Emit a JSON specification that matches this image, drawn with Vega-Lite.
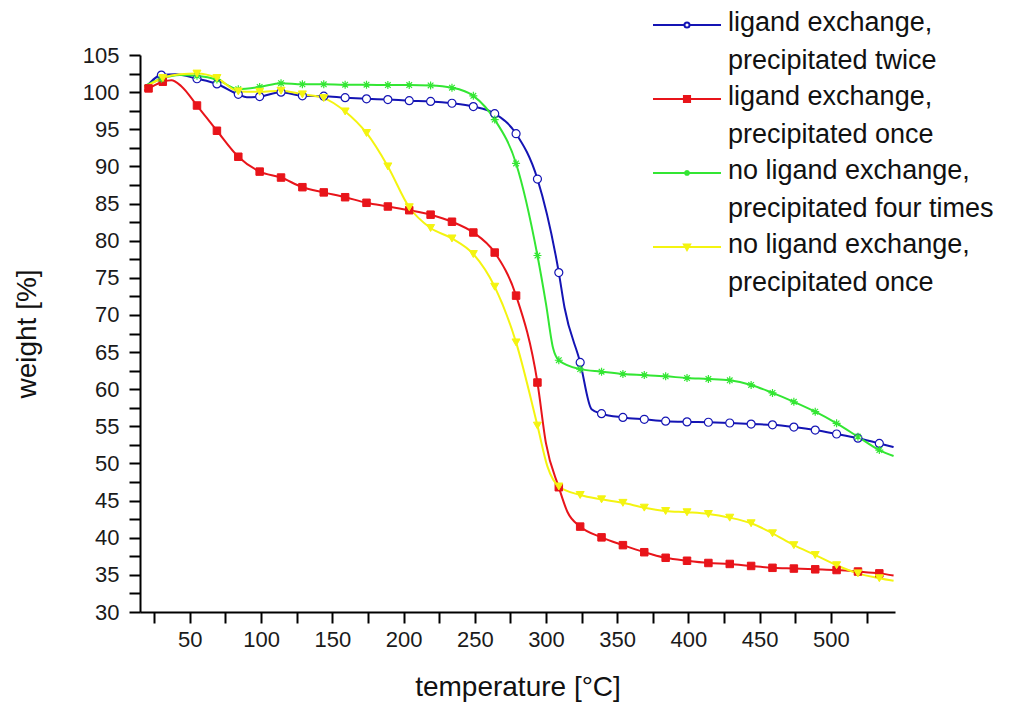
{
  "$schema": "https://vega.github.io/schema/vega-lite/v6.json",
  "autosize": {"type": "none"},
  "width": 755,
  "height": 557,
  "padding": {"left": 140, "top": 55, "right": 131, "bottom": 92},
  "background": "white",
  "config": {
    "view": {"stroke": null},
    "font": "Liberation Sans",
    "axis": {
      "grid": false,
      "domainColor": "black",
      "domainWidth": 2,
      "tickColor": "black",
      "tickWidth": 2,
      "tickSize": 11,
      "labelFont": "Liberation Sans",
      "labelFontSize": 22,
      "labelColor": "#1a1a1a",
      "titleFont": "Liberation Sans",
      "titleFontSize": 28,
      "titleFontWeight": "normal",
      "titleColor": "#111"
    },
    "legend": {
      "orient": "none",
      "legendX": 512,
      "legendY": -45,
      "title": null,
      "labelFont": "Liberation Sans",
      "labelFontSize": 27,
      "labelColor": "#111",
      "labelLimit": 500,
      "symbolSize": 4624,
      "labelOffset": 6,
      "rowPadding": 9
    }
  },
  "data": {
    "values": [
      {"series": "ligand exchange,|precipitated twice", "temperature": 19, "weight": 100.6, "marker": false},
      {"series": "ligand exchange,|precipitated twice", "temperature": 30, "weight": 102.3, "marker": true},
      {"series": "ligand exchange,|precipitated twice", "temperature": 40, "weight": 102.4, "marker": false},
      {"series": "ligand exchange,|precipitated twice", "temperature": 55, "weight": 101.8, "marker": true},
      {"series": "ligand exchange,|precipitated twice", "temperature": 69, "weight": 101.1, "marker": true},
      {"series": "ligand exchange,|precipitated twice", "temperature": 84, "weight": 99.7, "marker": true},
      {"series": "ligand exchange,|precipitated twice", "temperature": 90, "weight": 99.3, "marker": false},
      {"series": "ligand exchange,|precipitated twice", "temperature": 99, "weight": 99.4, "marker": true},
      {"series": "ligand exchange,|precipitated twice", "temperature": 114, "weight": 100.0, "marker": true},
      {"series": "ligand exchange,|precipitated twice", "temperature": 129, "weight": 99.5, "marker": true},
      {"series": "ligand exchange,|precipitated twice", "temperature": 144, "weight": 99.45, "marker": true},
      {"series": "ligand exchange,|precipitated twice", "temperature": 159, "weight": 99.25, "marker": true},
      {"series": "ligand exchange,|precipitated twice", "temperature": 174, "weight": 99.1, "marker": true},
      {"series": "ligand exchange,|precipitated twice", "temperature": 189, "weight": 99.0, "marker": true},
      {"series": "ligand exchange,|precipitated twice", "temperature": 204, "weight": 98.85, "marker": true},
      {"series": "ligand exchange,|precipitated twice", "temperature": 219, "weight": 98.75, "marker": true},
      {"series": "ligand exchange,|precipitated twice", "temperature": 234, "weight": 98.5, "marker": true},
      {"series": "ligand exchange,|precipitated twice", "temperature": 249, "weight": 98.05, "marker": true},
      {"series": "ligand exchange,|precipitated twice", "temperature": 264, "weight": 97.1, "marker": true},
      {"series": "ligand exchange,|precipitated twice", "temperature": 279, "weight": 94.4, "marker": true},
      {"series": "ligand exchange,|precipitated twice", "temperature": 294, "weight": 88.3, "marker": true},
      {"series": "ligand exchange,|precipitated twice", "temperature": 309, "weight": 75.7, "marker": true},
      {"series": "ligand exchange,|precipitated twice", "temperature": 313, "weight": 71.0, "marker": false},
      {"series": "ligand exchange,|precipitated twice", "temperature": 324, "weight": 63.6, "marker": true},
      {"series": "ligand exchange,|precipitated twice", "temperature": 332, "weight": 57.3, "marker": false},
      {"series": "ligand exchange,|precipitated twice", "temperature": 339, "weight": 56.7, "marker": true},
      {"series": "ligand exchange,|precipitated twice", "temperature": 354, "weight": 56.2, "marker": true},
      {"series": "ligand exchange,|precipitated twice", "temperature": 369, "weight": 55.95, "marker": true},
      {"series": "ligand exchange,|precipitated twice", "temperature": 384, "weight": 55.7, "marker": true},
      {"series": "ligand exchange,|precipitated twice", "temperature": 399, "weight": 55.6, "marker": true},
      {"series": "ligand exchange,|precipitated twice", "temperature": 414, "weight": 55.55, "marker": true},
      {"series": "ligand exchange,|precipitated twice", "temperature": 429, "weight": 55.45, "marker": true},
      {"series": "ligand exchange,|precipitated twice", "temperature": 444, "weight": 55.3, "marker": true},
      {"series": "ligand exchange,|precipitated twice", "temperature": 459, "weight": 55.2, "marker": true},
      {"series": "ligand exchange,|precipitated twice", "temperature": 474, "weight": 54.9, "marker": true},
      {"series": "ligand exchange,|precipitated twice", "temperature": 489, "weight": 54.5, "marker": true},
      {"series": "ligand exchange,|precipitated twice", "temperature": 504, "weight": 53.97, "marker": true},
      {"series": "ligand exchange,|precipitated twice", "temperature": 519, "weight": 53.4, "marker": true},
      {"series": "ligand exchange,|precipitated twice", "temperature": 534, "weight": 52.7, "marker": true},
      {"series": "ligand exchange,|precipitated twice", "temperature": 544, "weight": 52.2, "marker": false},

      {"series": "ligand exchange,|precipitated once", "temperature": 18, "weight": 100.2, "marker": false},
      {"series": "ligand exchange,|precipitated once", "temperature": 21, "weight": 100.5, "marker": true},
      {"series": "ligand exchange,|precipitated once", "temperature": 31, "weight": 101.4, "marker": true},
      {"series": "ligand exchange,|precipitated once", "temperature": 37, "weight": 101.6, "marker": false},
      {"series": "ligand exchange,|precipitated once", "temperature": 44, "weight": 100.8, "marker": false},
      {"series": "ligand exchange,|precipitated once", "temperature": 55, "weight": 98.2, "marker": true},
      {"series": "ligand exchange,|precipitated once", "temperature": 69, "weight": 94.8, "marker": true},
      {"series": "ligand exchange,|precipitated once", "temperature": 84, "weight": 91.3, "marker": true},
      {"series": "ligand exchange,|precipitated once", "temperature": 99, "weight": 89.3, "marker": true},
      {"series": "ligand exchange,|precipitated once", "temperature": 114, "weight": 88.5, "marker": true},
      {"series": "ligand exchange,|precipitated once", "temperature": 129, "weight": 87.2, "marker": true},
      {"series": "ligand exchange,|precipitated once", "temperature": 144, "weight": 86.5, "marker": true},
      {"series": "ligand exchange,|precipitated once", "temperature": 159, "weight": 85.85, "marker": true},
      {"series": "ligand exchange,|precipitated once", "temperature": 174, "weight": 85.1, "marker": true},
      {"series": "ligand exchange,|precipitated once", "temperature": 189, "weight": 84.6, "marker": true},
      {"series": "ligand exchange,|precipitated once", "temperature": 204, "weight": 84.1, "marker": true},
      {"series": "ligand exchange,|precipitated once", "temperature": 219, "weight": 83.5, "marker": true},
      {"series": "ligand exchange,|precipitated once", "temperature": 234, "weight": 82.55, "marker": true},
      {"series": "ligand exchange,|precipitated once", "temperature": 249, "weight": 81.1, "marker": true},
      {"series": "ligand exchange,|precipitated once", "temperature": 264, "weight": 78.4, "marker": true},
      {"series": "ligand exchange,|precipitated once", "temperature": 279, "weight": 72.6, "marker": true},
      {"series": "ligand exchange,|precipitated once", "temperature": 294, "weight": 60.9, "marker": true},
      {"series": "ligand exchange,|precipitated once", "temperature": 300, "weight": 52.7, "marker": false},
      {"series": "ligand exchange,|precipitated once", "temperature": 309, "weight": 46.8, "marker": true},
      {"series": "ligand exchange,|precipitated once", "temperature": 315, "weight": 43.5, "marker": false},
      {"series": "ligand exchange,|precipitated once", "temperature": 324, "weight": 41.5, "marker": true},
      {"series": "ligand exchange,|precipitated once", "temperature": 339, "weight": 40.05, "marker": true},
      {"series": "ligand exchange,|precipitated once", "temperature": 354, "weight": 39.0, "marker": true},
      {"series": "ligand exchange,|precipitated once", "temperature": 369, "weight": 38.05, "marker": true},
      {"series": "ligand exchange,|precipitated once", "temperature": 384, "weight": 37.3, "marker": true},
      {"series": "ligand exchange,|precipitated once", "temperature": 399, "weight": 36.9, "marker": true},
      {"series": "ligand exchange,|precipitated once", "temperature": 414, "weight": 36.6, "marker": true},
      {"series": "ligand exchange,|precipitated once", "temperature": 429, "weight": 36.47, "marker": true},
      {"series": "ligand exchange,|precipitated once", "temperature": 444, "weight": 36.2, "marker": true},
      {"series": "ligand exchange,|precipitated once", "temperature": 459, "weight": 35.95, "marker": true},
      {"series": "ligand exchange,|precipitated once", "temperature": 474, "weight": 35.85, "marker": true},
      {"series": "ligand exchange,|precipitated once", "temperature": 489, "weight": 35.75, "marker": true},
      {"series": "ligand exchange,|precipitated once", "temperature": 504, "weight": 35.65, "marker": true},
      {"series": "ligand exchange,|precipitated once", "temperature": 519, "weight": 35.45, "marker": true},
      {"series": "ligand exchange,|precipitated once", "temperature": 534, "weight": 35.2, "marker": true},
      {"series": "ligand exchange,|precipitated once", "temperature": 544, "weight": 34.9, "marker": false},

      {"series": "no ligand exchange,|precipitated four times", "temperature": 18, "weight": 100.8, "marker": false},
      {"series": "no ligand exchange,|precipitated four times", "temperature": 30, "weight": 101.8, "marker": true},
      {"series": "no ligand exchange,|precipitated four times", "temperature": 43, "weight": 102.3, "marker": false},
      {"series": "no ligand exchange,|precipitated four times", "temperature": 55, "weight": 102.2, "marker": true},
      {"series": "no ligand exchange,|precipitated four times", "temperature": 69, "weight": 101.7, "marker": true},
      {"series": "no ligand exchange,|precipitated four times", "temperature": 84, "weight": 100.4, "marker": true},
      {"series": "no ligand exchange,|precipitated four times", "temperature": 99, "weight": 100.7, "marker": true},
      {"series": "no ligand exchange,|precipitated four times", "temperature": 114, "weight": 101.2, "marker": true},
      {"series": "no ligand exchange,|precipitated four times", "temperature": 129, "weight": 101.05, "marker": true},
      {"series": "no ligand exchange,|precipitated four times", "temperature": 144, "weight": 101.05, "marker": true},
      {"series": "no ligand exchange,|precipitated four times", "temperature": 159, "weight": 101.0, "marker": true},
      {"series": "no ligand exchange,|precipitated four times", "temperature": 174, "weight": 101.0, "marker": true},
      {"series": "no ligand exchange,|precipitated four times", "temperature": 189, "weight": 100.95, "marker": true},
      {"series": "no ligand exchange,|precipitated four times", "temperature": 204, "weight": 100.95, "marker": true},
      {"series": "no ligand exchange,|precipitated four times", "temperature": 219, "weight": 100.9, "marker": true},
      {"series": "no ligand exchange,|precipitated four times", "temperature": 234, "weight": 100.6, "marker": true},
      {"series": "no ligand exchange,|precipitated four times", "temperature": 249, "weight": 99.5, "marker": true},
      {"series": "no ligand exchange,|precipitated four times", "temperature": 264, "weight": 96.3, "marker": true},
      {"series": "no ligand exchange,|precipitated four times", "temperature": 279, "weight": 90.4, "marker": true},
      {"series": "no ligand exchange,|precipitated four times", "temperature": 294, "weight": 78.0, "marker": true},
      {"series": "no ligand exchange,|precipitated four times", "temperature": 300, "weight": 71.5, "marker": false},
      {"series": "no ligand exchange,|precipitated four times", "temperature": 305, "weight": 65.5, "marker": false},
      {"series": "no ligand exchange,|precipitated four times", "temperature": 309, "weight": 63.9, "marker": true},
      {"series": "no ligand exchange,|precipitated four times", "temperature": 324, "weight": 62.7, "marker": true},
      {"series": "no ligand exchange,|precipitated four times", "temperature": 339, "weight": 62.36, "marker": true},
      {"series": "no ligand exchange,|precipitated four times", "temperature": 354, "weight": 62.05, "marker": true},
      {"series": "no ligand exchange,|precipitated four times", "temperature": 369, "weight": 61.9, "marker": true},
      {"series": "no ligand exchange,|precipitated four times", "temperature": 384, "weight": 61.74, "marker": true},
      {"series": "no ligand exchange,|precipitated four times", "temperature": 399, "weight": 61.5, "marker": true},
      {"series": "no ligand exchange,|precipitated four times", "temperature": 414, "weight": 61.38, "marker": true},
      {"series": "no ligand exchange,|precipitated four times", "temperature": 429, "weight": 61.2, "marker": true},
      {"series": "no ligand exchange,|precipitated four times", "temperature": 444, "weight": 60.57, "marker": true},
      {"series": "no ligand exchange,|precipitated four times", "temperature": 459, "weight": 59.5, "marker": true},
      {"series": "no ligand exchange,|precipitated four times", "temperature": 474, "weight": 58.3, "marker": true},
      {"series": "no ligand exchange,|precipitated four times", "temperature": 489, "weight": 56.97, "marker": true},
      {"series": "no ligand exchange,|precipitated four times", "temperature": 504, "weight": 55.4, "marker": true},
      {"series": "no ligand exchange,|precipitated four times", "temperature": 519, "weight": 53.6, "marker": true},
      {"series": "no ligand exchange,|precipitated four times", "temperature": 534, "weight": 51.8, "marker": true},
      {"series": "no ligand exchange,|precipitated four times", "temperature": 544, "weight": 51.0, "marker": false},

      {"series": "no ligand exchange,|precipitated once", "temperature": 18, "weight": 100.6, "marker": false},
      {"series": "no ligand exchange,|precipitated once", "temperature": 31, "weight": 101.9, "marker": true},
      {"series": "no ligand exchange,|precipitated once", "temperature": 43, "weight": 102.4, "marker": false},
      {"series": "no ligand exchange,|precipitated once", "temperature": 55, "weight": 102.5, "marker": true},
      {"series": "no ligand exchange,|precipitated once", "temperature": 69, "weight": 101.9, "marker": true},
      {"series": "no ligand exchange,|precipitated once", "temperature": 84, "weight": 100.1, "marker": true},
      {"series": "no ligand exchange,|precipitated once", "temperature": 99, "weight": 100.05, "marker": true},
      {"series": "no ligand exchange,|precipitated once", "temperature": 114, "weight": 100.2, "marker": true},
      {"series": "no ligand exchange,|precipitated once", "temperature": 129, "weight": 99.7, "marker": true},
      {"series": "no ligand exchange,|precipitated once", "temperature": 144, "weight": 99.2, "marker": true},
      {"series": "no ligand exchange,|precipitated once", "temperature": 159, "weight": 97.4, "marker": true},
      {"series": "no ligand exchange,|precipitated once", "temperature": 174, "weight": 94.5, "marker": true},
      {"series": "no ligand exchange,|precipitated once", "temperature": 189, "weight": 90.0, "marker": true},
      {"series": "no ligand exchange,|precipitated once", "temperature": 204, "weight": 84.5, "marker": true},
      {"series": "no ligand exchange,|precipitated once", "temperature": 219, "weight": 81.7, "marker": true},
      {"series": "no ligand exchange,|precipitated once", "temperature": 234, "weight": 80.3, "marker": true},
      {"series": "no ligand exchange,|precipitated once", "temperature": 249, "weight": 78.2, "marker": true},
      {"series": "no ligand exchange,|precipitated once", "temperature": 264, "weight": 73.8, "marker": true},
      {"series": "no ligand exchange,|precipitated once", "temperature": 279, "weight": 66.3, "marker": true},
      {"series": "no ligand exchange,|precipitated once", "temperature": 294, "weight": 55.1, "marker": true},
      {"series": "no ligand exchange,|precipitated once", "temperature": 301, "weight": 49.6, "marker": false},
      {"series": "no ligand exchange,|precipitated once", "temperature": 309, "weight": 46.9, "marker": true},
      {"series": "no ligand exchange,|precipitated once", "temperature": 324, "weight": 45.76, "marker": true},
      {"series": "no ligand exchange,|precipitated once", "temperature": 339, "weight": 45.17, "marker": true},
      {"series": "no ligand exchange,|precipitated once", "temperature": 354, "weight": 44.7, "marker": true},
      {"series": "no ligand exchange,|precipitated once", "temperature": 369, "weight": 44.05, "marker": true},
      {"series": "no ligand exchange,|precipitated once", "temperature": 384, "weight": 43.6, "marker": true},
      {"series": "no ligand exchange,|precipitated once", "temperature": 399, "weight": 43.43, "marker": true},
      {"series": "no ligand exchange,|precipitated once", "temperature": 414, "weight": 43.2, "marker": true},
      {"series": "no ligand exchange,|precipitated once", "temperature": 429, "weight": 42.7, "marker": true},
      {"series": "no ligand exchange,|precipitated once", "temperature": 444, "weight": 41.95, "marker": true},
      {"series": "no ligand exchange,|precipitated once", "temperature": 459, "weight": 40.6, "marker": true},
      {"series": "no ligand exchange,|precipitated once", "temperature": 474, "weight": 39.0, "marker": true},
      {"series": "no ligand exchange,|precipitated once", "temperature": 489, "weight": 37.67, "marker": true},
      {"series": "no ligand exchange,|precipitated once", "temperature": 504, "weight": 36.3, "marker": true},
      {"series": "no ligand exchange,|precipitated once", "temperature": 519, "weight": 35.2, "marker": true},
      {"series": "no ligand exchange,|precipitated once", "temperature": 534, "weight": 34.55, "marker": true},
      {"series": "no ligand exchange,|precipitated once", "temperature": 544, "weight": 34.2, "marker": false}
    ]
  },
  "encoding": {
    "x": {
      "field": "temperature",
      "type": "quantitative",
      "scale": {"domain": [15, 545], "nice": false, "zero": false},
      "axis": {
        "title": "temperature [°C]",
        "values": [25, 50, 75, 100, 125, 150, 175, 200, 225, 250, 275, 300, 325, 350, 375, 400, 425, 450, 475, 500, 525],
        "labelExpr": "datum.value % 50 === 0 ? datum.label : ''",
        "encode": {"ticks": {"update": {"y2": {"signal": "datum.value % 50 === 0 ? 11 : 6"}}}},
        "labelPadding": 6,
        "titlePadding": 23
      }
    },
    "y": {
      "field": "weight",
      "type": "quantitative",
      "scale": {"domain": [30, 105], "nice": false, "zero": false},
      "axis": {
        "title": "weight [%]",
        "values": [30, 32.5, 35, 37.5, 40, 42.5, 45, 47.5, 50, 52.5, 55, 57.5, 60, 62.5, 65, 67.5, 70, 72.5, 75, 77.5, 80, 82.5, 85, 87.5, 90, 92.5, 95, 97.5, 100, 102.5, 105],
        "labelExpr": "datum.value % 5 === 0 ? datum.label : ''",
        "encode": {"ticks": {"update": {"x2": {"signal": "datum.value % 5 === 0 ? -11 : -6"}}}},
        "labelPadding": 10,
        "titlePadding": 41
      }
    }
  },
  "layer": [
    {
      "mark": {"type": "line", "interpolate": "monotone", "strokeWidth": 2},
      "encoding": {
        "color": {
          "field": "series",
          "type": "nominal",
          "scale": {
            "domain": ["ligand exchange,|precipitated twice", "ligand exchange,|precipitated once", "no ligand exchange,|precipitated four times", "no ligand exchange,|precipitated once"],
            "range": ["#1414b4", "#e8141a", "#33e633", "#f4f410"]
          },
          "legend": {
            "labelExpr": "split(datum.label, '|')",
            "encode": {
              "symbols": {
                "update": {
                  "shape": {"signal": "datum.index === 0 ? 'M-1,0H-0.075M0.075,0H1M0.075,0A0.075,0.075 0 1,1 -0.075,0A0.075,0.075 0 1,1 0.075,0Z' : datum.index === 1 ? 'M-1,0H1M-0.09,-0.09H0.09V0.09H-0.09Z' : datum.index === 2 ? 'M-1,0H1M0,-0.08V0.08M-0.06,-0.06L0.06,0.06M-0.06,0.06L0.06,-0.06' : 'M-1,0H1M-0.09,-0.07H0.09L0,0.09Z'"},
                  "fill": {"signal": "datum.index === 0 ? 'white' : scale('color', datum.value)"},
                  "stroke": {"signal": "scale('color', datum.value)"},
                  "strokeWidth": {"value": 2},
                  "size": {"value": 4624},
                  "opacity": {"value": 1},
                  "y": {"value": 15}
                }
              },
              "labels": {
                "update": {
                  "y": {"value": 0},
                  "dy": {"value": 0},
                  "baseline": {"value": "top"},
                  "lineHeight": {"value": 38}
                }
              }
            }
          }
        },
        "detail": {"field": "series"}
      }
    },
    {
      "transform": [{"filter": "datum.marker && datum.series === 'ligand exchange,|precipitated twice'"}],
      "mark": {"type": "point", "shape": "circle", "filled": false, "fill": "white", "stroke": "#1414b4", "size": 64, "opacity": 1, "strokeWidth": 1.2}
    },
    {
      "transform": [{"filter": "datum.marker && datum.series === 'ligand exchange,|precipitated once'"}],
      "mark": {"type": "point", "shape": "square", "filled": true, "fill": "#e8141a", "stroke": "#e8141a", "size": 56, "opacity": 1, "strokeWidth": 1}
    },
    {
      "transform": [{"filter": "datum.marker && datum.series === 'no ligand exchange,|precipitated four times'"}],
      "mark": {"type": "point", "shape": "M-1,0L1,0M0,-1L0,1M-0.7,-0.7L0.7,0.7M-0.7,0.7L0.7,-0.7", "filled": false, "stroke": "#33e633", "size": 64, "opacity": 1, "strokeWidth": 1.2}
    },
    {
      "transform": [{"filter": "datum.marker && datum.series === 'no ligand exchange,|precipitated once'"}],
      "mark": {"type": "point", "shape": "triangle-down", "filled": true, "fill": "#f4f410", "stroke": "#f4f410", "size": 64, "opacity": 1, "strokeWidth": 1}
    }
  ]
}
